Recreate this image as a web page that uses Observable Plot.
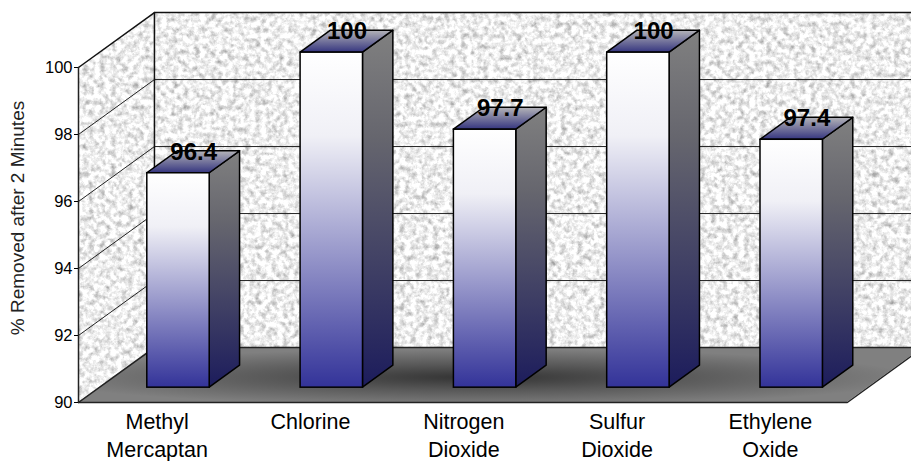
<!DOCTYPE html>
<html>
<head>
<meta charset="utf-8">
<style>html,body{margin:0;padding:0;background:#fff}svg{display:block}</style>
<script src="https://cdn.jsdelivr.net/npm/d3@7"></script>
<script src="https://cdn.jsdelivr.net/npm/@observablehq/plot@0.6"></script>
</head>
<body>
<script>
const categories = ["Methyl\nMercaptan", "Chlorine", "Nitrogen\nDioxide", "Sulfur\nDioxide", "Ethylene\nOxide"];
const values = [96.4, 100, 97.7, 100, 97.4];
const valueLabels = ["96.4", "100", "97.7", "100", "97.4"];
const yTicks = [90, 92, 94, 96, 98, 100];
const yTitle = "% Removed after 2 Minutes";

// oblique projection: one unit of depth moves along both data axes
const depthU = 0.4954, depthV = 1.64;
const P = (u, v, d) => ({x: u + d * depthU, y: v + d * depthV});
const n = categories.length, vMin = 90, vMax = 100;
const barStart = 0.315, barWidth = 0.407, dFront = 0.27, dBack = 0.67;
const uEnd = n + 0.015;

const quad = (a, b) => ({x1: a.x, y1: a.y, x2: b.x, y2: b.y});
// a parallelogram as an area between two edges
const leftWall = [quad(P(0, vMin, 0), P(0, vMin, 1)), quad(P(0, vMax, 0), P(0, vMax, 1))];
const floor = [quad(P(0, vMin, 0), P(uEnd, vMin, 0)), quad(P(0, vMin, 1), P(uEnd, vMin, 1))];
const backWall = [quad(P(0, vMin, 1), P(uEnd, vMin, 1)), quad(P(0, vMax, 1), P(uEnd, vMax, 1))];

const grid = yTicks.filter(t => t > vMin && t < vMax).flatMap(t => [
  {...P(0, t, 0), t}, {...P(0, t, 1), t}, {...P(uEnd, t, 1), t}
]);
const outline = pts => pts.map(([u, v, d]) => P(u, v, d));

const bars = values.map((v, i) => ({i, v, u0: i + barStart, u1: i + barStart + barWidth}));
const fronts = bars.map(b => {
  const a = P(b.u0, vMin, dFront), c = P(b.u1, b.v, dFront);
  return {x1: a.x, x2: c.x, y1: a.y, y2: c.y};
});
const sides = bars.flatMap(b => [
  {...quad(P(b.u1, vMin, dFront), P(b.u1, vMin, dBack)), i: b.i},
  {...quad(P(b.u1, b.v, dFront), P(b.u1, b.v, dBack)), i: b.i}
]);
const tops = bars.flatMap(b => [
  {...quad(P(b.u0, b.v, dFront), P(b.u1, b.v, dFront)), i: b.i},
  {...quad(P(b.u0, b.v, dBack), P(b.u1, b.v, dBack)), i: b.i}
]);
const labelPts = bars.map((b, i) => ({...P((b.u0 + b.u1) / 2, b.v, (dFront + dBack) / 2), label: valueLabels[i]}));
const areaOpts = {x1: "x1", y1: "y1", x2: "x2", y2: "y2"};
const FONT = "'Liberation Sans', Arial, sans-serif";

const svg = Plot.plot({
  width: 911,
  height: 461,
  marginLeft: 78,
  marginRight: 66.5,
  marginTop: 67,
  marginBottom: 59,
  style: {fontFamily: FONT, background: "#fff", color: "#000"},
  x: {domain: [0, n], axis: null},
  y: {domain: [vMin, vMax], axis: null},
  marks: [
    Plot.area(backWall, {...areaOpts, fill: "url(#granite)"}),
    Plot.area(leftWall, {...areaOpts, fill: "url(#granite)"}),
    Plot.area(floor, {...areaOpts, fill: "url(#floorGrad)"}),
    Plot.line(grid, {x: "x", y: "y", z: "t", stroke: "#222", strokeWidth: 1}),
    Plot.line(outline([[0, vMax, 0], [0, vMax, 1], [uEnd, vMax, 1]]), {x: "x", y: "y", stroke: "#111", strokeWidth: 1.5}),
    Plot.line(outline([[0, vMin, 1], [0, vMax, 1]]), {x: "x", y: "y", stroke: "#111", strokeWidth: 1.5}),
    Plot.line(outline([[0, vMax, 0], [0, vMin, 0], [uEnd, vMin, 0], [uEnd, vMin, 1]]), {x: "x", y: "y", stroke: "#222", strokeWidth: 1.5}),
    Plot.line(outline([[0, vMin, 0], [0, vMin, 1], [uEnd, vMin, 1]]), {x: "x", y: "y", stroke: "#222", strokeWidth: 1.5}),
    Plot.area(sides, {...areaOpts, z: "i", fill: "url(#sideGrad)", stroke: "#000", strokeWidth: 1.5}),
    Plot.area(tops, {...areaOpts, z: "i", fill: "url(#topGrad)", stroke: "#000", strokeWidth: 1.5}),
    Plot.rect(fronts, {x1: "x1", x2: "x2", y1: "y1", y2: "y2", fill: "url(#frontGrad)", stroke: "#000", strokeWidth: 1.5}),
    Plot.text(labelPts, {x: "x", y: "y", text: "label", dy: -10, fontSize: 24, fontWeight: "bold", fill: "#000"}),
    Plot.axisY({ticks: yTicks, tickSize: 4, tickPadding: 2, fontSize: 16.5, label: null, tickFormat: d => String(d)}),
    Plot.axisX({
      ticks: d3.range(n).map(i => i + 0.5),
      tickFormat: d => categories[Math.floor(d)],
      tickSize: 0, tickPadding: 6, fontSize: 21.5, lineHeight: 1.33, label: null, dx: 2, anchor: "bottom"
    }),
    Plot.text([yTitle], {frameAnchor: "left", textAnchor: "middle", dx: -61, dy: -17, rotate: -90, fontSize: 19, fill: "#222"})
  ]
});

svg.insertAdjacentHTML("afterbegin", `
<defs>
  <filter id="graniteNoise" x="0" y="0" width="100%" height="100%" color-interpolation-filters="sRGB">
    <feTurbulence type="fractalNoise" baseFrequency="0.18" numOctaves="5" seed="7"/>
    <feColorMatrix type="matrix" values="0.5 0.4 0 0 0.48  0.5 0.4 0 0 0.48  0.5 0.4 0 0 0.48  0 0 0 0 1"/>
  </filter>
  <pattern id="granite" patternUnits="userSpaceOnUse" width="911" height="461">
    <rect width="911" height="461" fill="#eee" filter="url(#graniteNoise)"/>
  </pattern>
  <linearGradient id="frontGrad" x1="0" y1="0" x2="0" y2="1">
    <stop offset="0" stop-color="#ffffff"/><stop offset="0.25" stop-color="#f0f0f6"/>
    <stop offset="1" stop-color="#333399"/>
  </linearGradient>
  <linearGradient id="sideGrad" x1="0" y1="0" x2="0" y2="1">
    <stop offset="0" stop-color="#808080"/><stop offset="0.3" stop-color="#66666e"/><stop offset="1" stop-color="#1c1c5c"/>
  </linearGradient>
  <linearGradient id="topGrad" x1="0" y1="1" x2="0" y2="0">
    <stop offset="0" stop-color="#35357f"/><stop offset="1" stop-color="#b4b4b8"/>
  </linearGradient>
  <radialGradient id="floorGrad" cx="0.47" cy="0.55" r="0.52">
    <stop offset="0" stop-color="#333333"/><stop offset="0.45" stop-color="#585858"/>
    <stop offset="1" stop-color="#808080"/>
  </radialGradient>
</defs>`);
document.body.appendChild(svg);
</script>
</body>
</html>
